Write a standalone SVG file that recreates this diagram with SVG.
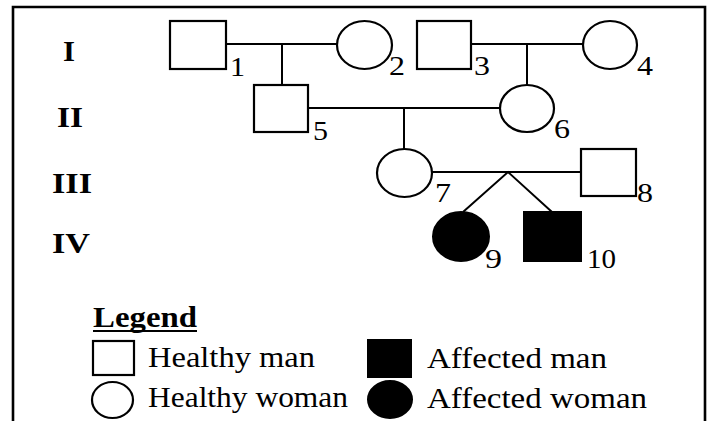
<svg xmlns="http://www.w3.org/2000/svg" width="710" height="421" viewBox="0 0 710 421">
<style>
.s{fill:#fff;stroke:#000;stroke-width:2.2}
.f{fill:#000;stroke:#000;stroke-width:2}
.ln{stroke:#000;stroke-width:2;fill:none}
.t{font-family:"Liberation Serif","Times New Roman",serif;font-size:28px;fill:#000}
.g{font-family:"Liberation Serif","Times New Roman",serif;font-size:30px;font-weight:bold;fill:#000}
.lg{font-family:"Liberation Serif","Times New Roman",serif;font-size:29px;fill:#000}
</style>
<rect width="710" height="421" fill="#fff"/>
<path d="M13,421 V7 H705 V421" fill="none" stroke="#000" stroke-width="2.6"/>
<g id="generations">
<text class="g" x="63" y="61" textLength="12" lengthAdjust="spacingAndGlyphs">I</text>
<text class="g" x="57" y="127" textLength="26" lengthAdjust="spacingAndGlyphs">II</text>
<text class="g" x="52" y="193" textLength="40" lengthAdjust="spacingAndGlyphs">III</text>
<text class="g" x="52" y="253" textLength="38" lengthAdjust="spacingAndGlyphs">IV</text>
</g>
<g id="connectors">
<path class="ln" d="M226,44 H337 M282,44 V85"/>
<path class="ln" d="M471,44 H583 M527,44 V85"/>
<path class="ln" d="M308,108 H500 M404,108 V149"/>
<path class="ln" d="M432,172 H581"/>
<path class="ln" d="M463,212 L508,172 L552,212" stroke-width="2.4"/>
</g>
<g id="n1"><rect class="s" x="170" y="21" width="56" height="48"/><text class="t" x="230" y="76" textLength="15" lengthAdjust="spacingAndGlyphs">1</text></g>
<g id="n2"><ellipse class="s" cx="364.5" cy="45" rx="27.5" ry="24"/><text class="t" x="389" y="75" textLength="16" lengthAdjust="spacingAndGlyphs">2</text></g>
<g id="n3"><rect class="s" x="417" y="21" width="54" height="48"/><text class="t" x="474" y="75" textLength="16" lengthAdjust="spacingAndGlyphs">3</text></g>
<g id="n4"><ellipse class="s" cx="610" cy="45" rx="27" ry="24"/><text class="t" x="637" y="75" textLength="16" lengthAdjust="spacingAndGlyphs">4</text></g>
<g id="n5"><rect class="s" x="254" y="85" width="54" height="47"/><text class="t" x="313" y="140" textLength="15" lengthAdjust="spacingAndGlyphs">5</text></g>
<g id="n6"><ellipse class="s" cx="527" cy="108.5" rx="27" ry="23.5"/><text class="t" x="554" y="138" textLength="16" lengthAdjust="spacingAndGlyphs">6</text></g>
<g id="n7"><ellipse class="s" cx="404.5" cy="173" rx="27.5" ry="24"/><text class="t" x="435" y="202" textLength="16" lengthAdjust="spacingAndGlyphs">7</text></g>
<g id="n8"><rect class="s" x="581" y="149" width="55" height="47"/><text class="t" x="637" y="202" textLength="16" lengthAdjust="spacingAndGlyphs">8</text></g>
<g id="n9"><ellipse class="f" cx="461" cy="236.5" rx="28" ry="24.5"/><text class="t" x="485" y="268" textLength="17" lengthAdjust="spacingAndGlyphs">9</text></g>
<g id="n10"><rect class="f" x="524" y="212" width="57" height="49"/><text class="t" x="587" y="268" textLength="29" lengthAdjust="spacingAndGlyphs">10</text></g>
<g id="legend">
<text class="g" x="93" y="327" textLength="104" lengthAdjust="spacingAndGlyphs">Legend</text>
<line x1="93" y1="331" x2="197" y2="331" stroke="#000" stroke-width="2"/>
<rect class="s" x="93" y="341" width="41" height="34"/>
<text class="lg" x="148" y="367" textLength="167" lengthAdjust="spacingAndGlyphs">Healthy man</text>
<ellipse class="s" cx="112.5" cy="400" rx="20.5" ry="18"/>
<text class="lg" x="148" y="407" textLength="200" lengthAdjust="spacingAndGlyphs">Healthy woman</text>
<rect class="f" x="368" y="340" width="43" height="37"/>
<text class="lg" x="427" y="368" textLength="180" lengthAdjust="spacingAndGlyphs">Affected man</text>
<ellipse class="f" cx="390" cy="399.5" rx="22" ry="18.5"/>
<text class="lg" x="427" y="408" textLength="220" lengthAdjust="spacingAndGlyphs">Affected woman</text>
</g>
</svg>
